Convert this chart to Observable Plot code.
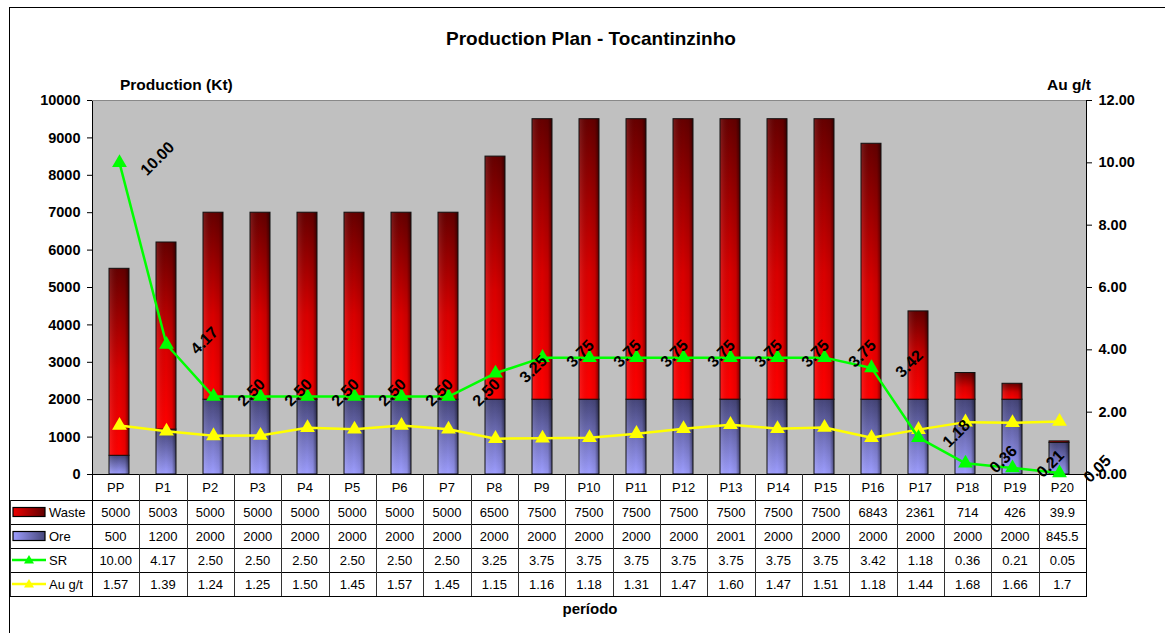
<!DOCTYPE html>
<html>
<head>
<meta charset="utf-8">
<script src="https://cdn.jsdelivr.net/npm/d3@7"></script>
<script src="https://cdn.jsdelivr.net/npm/@observablehq/plot@0.6"></script>
<style>
  body { margin: 0; background: #fff; font-family: "Liberation Sans", Arial, sans-serif; }
  #wrap { position: relative; width: 1165px; height: 633px; overflow: hidden; background: #fff; }
  #border { position: absolute; left: 9px; top: 7px; width: 1200px; height: 700px; border-left: 1.5px solid #000; border-top: 1.5px solid #000; }
  .lbl { position: absolute; font-weight: bold; color: #000; white-space: nowrap; line-height: 20px; }
  #chart { position: absolute; left: 0; top: 0; }
  .hl { position: absolute; height: 1px; background: #000; }
  .vl { position: absolute; width: 1px; background: #333; }
  .cell { position: absolute; display: flex; align-items: center; justify-content: center; font-size: 13px; color: #000; white-space: nowrap; }
  .rowlab { position: absolute; display: flex; align-items: center; font-size: 13px; color: #000; white-space: nowrap; }
</style>
</head>
<body>
<div id="wrap">
  <svg width="0" height="0" style="position:absolute">
    <defs>
      <linearGradient id="wasteG" x1="0" y1="0" x2="0" y2="1">
        <stop offset="0" stop-color="#660000"/>
        <stop offset="0.55" stop-color="#d80000"/>
        <stop offset="1" stop-color="#ff0000"/>
      </linearGradient>
      <linearGradient id="oreG" x1="0" y1="0" x2="0" y2="1">
        <stop offset="0" stop-color="#46467a"/>
        <stop offset="1" stop-color="#9e9eff"/>
      </linearGradient>
      <linearGradient id="shadeG" x1="0" y1="0" x2="1" y2="0">
        <stop offset="0" stop-color="#ffffff" stop-opacity="0.12"/>
        <stop offset="0.5" stop-color="#000000" stop-opacity="0"/>
        <stop offset="0.8" stop-color="#000000" stop-opacity="0.08"/>
        <stop offset="1" stop-color="#000000" stop-opacity="0.5"/>
      </linearGradient>
      <linearGradient id="wasteSw" x1="0" y1="0" x2="1" y2="0">
        <stop offset="0" stop-color="#ee0000"/>
        <stop offset="1" stop-color="#600000"/>
      </linearGradient>
      <linearGradient id="oreSw" x1="0" y1="0" x2="1" y2="0">
        <stop offset="0" stop-color="#9e9eff"/>
        <stop offset="1" stop-color="#46467a"/>
      </linearGradient>
    </defs>
  </svg>
  <div id="border"></div>
  <div class="lbl" style="left:0;width:1182px;text-align:center;top:29px;font-size:19px;">Production Plan - Tocantinzinho</div>
  <div class="lbl" style="left:120px;top:75px;font-size:15.5px;">Production (Kt)</div>
  <div class="lbl" style="right:74px;top:75px;font-size:15.5px;">Au g/t</div>
  <div class="lbl" style="left:0;width:1180px;text-align:center;top:599px;font-size:15px;">período</div>
  <div id="chart"></div>
</div>
<script>
const periods = ["PP","P1","P2","P3","P4","P5","P6","P7","P8","P9","P10","P11","P12","P13","P14","P15","P16","P17","P18","P19","P20"];
const waste = [5000,5003,5000,5000,5000,5000,5000,5000,6500,7500,7500,7500,7500,7500,7500,7500,6843,2361,714,426,39.9];
const ore = [500,1200,2000,2000,2000,2000,2000,2000,2000,2000,2000,2000,2000,2001,2000,2000,2000,2000,2000,2000,845.5];
const sr = [10.00,4.17,2.50,2.50,2.50,2.50,2.50,2.50,3.25,3.75,3.75,3.75,3.75,3.75,3.75,3.75,3.42,1.18,0.36,0.21,0.05];
const au = [1.57,1.39,1.24,1.25,1.50,1.45,1.57,1.45,1.15,1.16,1.18,1.31,1.47,1.60,1.47,1.51,1.18,1.44,1.68,1.66,1.7];
const leftTicks = [0,1000,2000,3000,4000,5000,6000,7000,8000,9000,10000];
const rightTicks = [0,2,4,6,8,10,12];
const rowNames = ["Waste","Ore","SR","Au g/t"];

const K = 10000 / 12; // right axis (0–12) mapped onto left axis (0–10000)
const data = periods.map((p, i) => ({period: p, waste: waste[i], ore: ore[i], sr: sr[i], au: au[i]}));

const txt = {fontSize: 14.5, fontWeight: "bold", fill: "#000"};

const plot = Plot.plot({
  width: 1165, height: 475,
  marginLeft: 92, marginRight: 79, marginTop: 100, marginBottom: 1,
  style: {background: "transparent", fontFamily: "'Liberation Sans', Arial, sans-serif", overflow: "visible"},
  x: {domain: periods, paddingInner: 0.577, paddingOuter: 0.2885, axis: null},
  y: {domain: [0, 10000], axis: null},
  marks: [
    Plot.frame({fill: "#c0c0c0", stroke: "#000"}),
    Plot.ruleY([10000], {stroke: "#888"}),
    Plot.barY(data, {x: "period", y1: 0, y2: "ore", fill: "url(#oreG)"}),
    Plot.barY(data, {x: "period", y1: 0, y2: "ore", fill: "url(#shadeG)", stroke: "#111", strokeWidth: 1}),
    Plot.barY(data, {x: "period", y1: "ore", y2: d => d.ore + d.waste, fill: "url(#wasteG)"}),
    Plot.barY(data, {x: "period", y1: "ore", y2: d => d.ore + d.waste, fill: "url(#shadeG)", stroke: "#111", strokeWidth: 1}),
    Plot.axisY(leftTicks, {anchor: "left", tickSize: 5, tickPadding: 7, label: null, tickFormat: d => String(d), ...txt}),
    Plot.axisY(rightTicks.map(v => v * K), {anchor: "right", tickSize: 5, tickPadding: 7, label: null,
      tickFormat: d => (d / K).toFixed(2), ...txt}),
    Plot.line(data, {x: "period", y: d => d.au * K, stroke: "#ffff00", strokeWidth: 2.5}),
    Plot.dot(data, {x: "period", y: d => d.au * K, symbol: "triangle", r: 5.5, fill: "#ffff00", stroke: "none"}),
    Plot.line(data, {x: "period", y: d => d.sr * K, stroke: "#00ff00", strokeWidth: 2.5}),
    Plot.dot(data, {x: "period", y: d => d.sr * K, symbol: "triangle", r: 5.5, fill: "#00ff00", stroke: "none"}),
    Plot.text(data, {x: "period", y: d => d.sr * K, text: d => d.sr.toFixed(2), rotate: -45,
      dx: 38, dy: -4, fontSize: 16, fontWeight: "bold", fill: "#000", textAnchor: "middle", lineAnchor: "middle"})
  ]
});
const wrap = document.getElementById("wrap");
document.getElementById("chart").appendChild(plot);

// Data table under the chart, aligned on the x scale's bands
const xs = plot.scale("x");
const x0 = xs.range[0], x1 = xs.range[1];
const step = (x1 - x0) / periods.length;
const rowsY = [474, 500, 524, 548, 572, 596];
const tableLeft = 10;

function add(cls, style, html) {
  const d = document.createElement("div");
  d.className = cls;
  Object.assign(d.style, style);
  if (html != null) d.innerHTML = html;
  wrap.appendChild(d);
  return d;
}
[500, 524, 548, 572, 596].forEach(y => add("hl", {left: tableLeft + "px", top: y + "px", width: (x1 - tableLeft + 1) + "px"}));
add("vl", {left: tableLeft + "px", top: "500px", height: "96px"});
for (let k = 0; k <= periods.length; k++) {
  const x = Math.round(x0 + k * step);
  add("vl", {left: x + "px", top: "474px", height: "122px", background: k === 0 || k === periods.length ? "#000" : "#333"});
}
const fmtGeneral = v => String(v);
const fmtAu = (v, i) => (i === au.length - 1 ? String(v) : v.toFixed(2));
const rowsText = [
  periods,
  waste.map(fmtGeneral),
  ore.map(fmtGeneral),
  sr.map(v => v.toFixed(2)),
  au.map(fmtAu)
];
rowsText.forEach((row, r) => {
  row.forEach((t, i) => {
    add("cell", {left: (x0 + i * step) + "px", top: rowsY[r] + "px", width: step + "px", height: (rowsY[r + 1] - rowsY[r]) + "px"}, t);
  });
});
const keys = [
  '<svg width="36" height="12"><rect x="1" y="1.5" width="32" height="9" fill="url(#wasteSw)" stroke="#000" stroke-width="1.2"/></svg>',
  '<svg width="36" height="12"><rect x="1" y="1.5" width="32" height="9" fill="url(#oreSw)" stroke="#000" stroke-width="1.2"/></svg>',
  '<svg width="36" height="12"><line x1="0" y1="6" x2="34" y2="6" stroke="#00ff00" stroke-width="2.5"/><path d="M17,1 L22,9.5 L12,9.5 Z" fill="#00ff00"/></svg>',
  '<svg width="36" height="12"><line x1="0" y1="6" x2="34" y2="6" stroke="#ffff00" stroke-width="2.5"/><path d="M17,1 L22,9.5 L12,9.5 Z" fill="#ffff00"/></svg>'
];
rowNames.forEach((name, r) => {
  add("rowlab", {left: "12px", top: rowsY[r + 1] + "px", height: (rowsY[r + 2] - rowsY[r + 1]) + "px"}, keys[r] + '<span style="margin-left:1px">' + name + '</span>');
});
</script>
</body>
</html>
